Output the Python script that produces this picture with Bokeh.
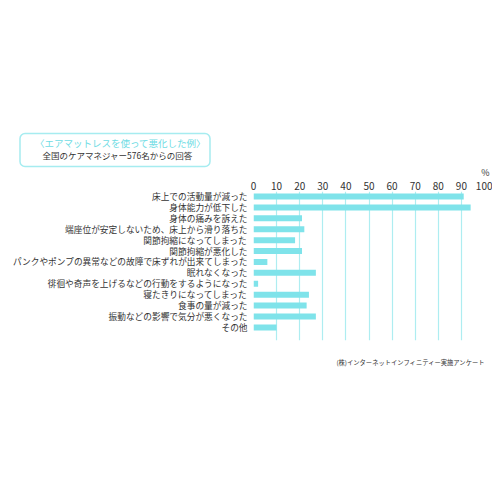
from bokeh.plotting import figure
from bokeh.models import Range1d, FixedTicker, Title
from bokeh.embed import file_html
from bokeh.resources import INLINE

categories = [
    "床上での活動量が減った",
    "身体能力が低下した",
    "身体の痛みを訴えた",
    "端座位が安定しないため、床上から滑り落ちた",
    "関節拘縮になってしまった",
    "関節拘縮が悪化した",
    "パンクやポンプの異常などの故障で床ずれが出来てしまった",
    "眠れなくなった",
    "徘徊や奇声を上げるなどの行動をするようになった",
    "寝たきりになってしまった",
    "食事の量が減った",
    "振動などの影響で気分が悪くなった",
    "その他",
]
values = [91, 94, 21, 22, 18, 21, 6, 27, 2, 24, 23, 27, 10]
x_ticks = [0, 10, 20, 30, 40, 50, 60, 70, 80, 90, 100]

title_text = "〈エアマットレスを使って悪化した例〉"
subtitle_text = "全国のケアマネジャー576名からの回答"
unit_text = "%"
source_text = "(株)インターネットインフィニティー実施アンケート"

JP = "Noto Sans CJK JP"
BAR = "#7fe3ea"
GRID = "#aeedf1"
INK = "#333333"

# plot frame in page pixels
FL, FR, FT, FB = 253, 484, 191, 340
Y_TOP, Y_BOT = -0.46, 13.2

p = figure(frame_width=FR - FL, frame_height=FB - FT, output_backend="svg",
           toolbar_location=None,
           x_range=Range1d(0, 100), y_range=Range1d(Y_BOT, Y_TOP),
           x_axis_location="above",
           min_border_left=FL, min_border_right=8,
           min_border_top=FT, min_border_bottom=492 - FB)
p.outline_line_color = None

ys = list(range(len(categories)))
p.hbar(y=ys, right=values, left=0, height=0.55, fill_color=BAR, line_color=None)

p.xaxis.ticker = FixedTicker(ticks=x_ticks)
p.xaxis.axis_line_color = None
p.xaxis.major_tick_line_color = None
p.xaxis.minor_tick_line_color = None
p.xaxis.major_tick_out = 0
p.xaxis.minor_tick_out = 0
p.xaxis.major_label_standoff = 2
p.xaxis.major_label_text_font = JP
p.xaxis.major_label_text_font_size = "10px"
p.xaxis.major_label_text_color = INK

p.yaxis.ticker = FixedTicker(ticks=ys)
p.yaxis.major_label_overrides = {i: c for i, c in enumerate(categories)}
p.yaxis.axis_line_color = None
p.yaxis.major_tick_line_color = None
p.yaxis.minor_tick_line_color = None
p.yaxis.major_tick_out = 0
p.yaxis.minor_tick_out = 0
p.yaxis.major_label_standoff = 6
p.yaxis.major_label_text_font = JP
p.yaxis.major_label_text_font_size = "8.7px"
p.yaxis.major_label_text_color = INK

p.xgrid.grid_line_color = GRID
p.xgrid.grid_line_width = 1.2
p.ygrid.grid_line_color = None

p.add_layout(Title(text=unit_text, align="right", offset=-5, standoff=0,
                   text_font=JP, text_font_size="9px", text_font_style="normal",
                   text_color=INK), "above")
p.add_layout(Title(text=subtitle_text, align="left", offset=42 - FL, standoff=6,
                   text_font=JP, text_font_size="8.5px", text_font_style="normal",
                   text_color=INK), "above")
# the rounded frame of the heading is the border of this title, stretched down over the subtitle
p.add_layout(Title(text=title_text, align="left", offset=-233.5, standoff=-46,
                   text_font=JP, text_font_size="9.5px", text_font_style="normal",
                   text_color="#6fdce4", border_line_color="#a6ecf0",
                   border_line_width=1.5, border_radius=5,
                   padding=(15, 4, 2, 17)), "above")
p.add_layout(Title(text=source_text, align="right", offset=-1, standoff=30,
                   text_font=JP, text_font_size="6.3px", text_font_style="normal",
                   text_color=INK), "below")

open("out.html", "w").write(file_html(p, INLINE))
